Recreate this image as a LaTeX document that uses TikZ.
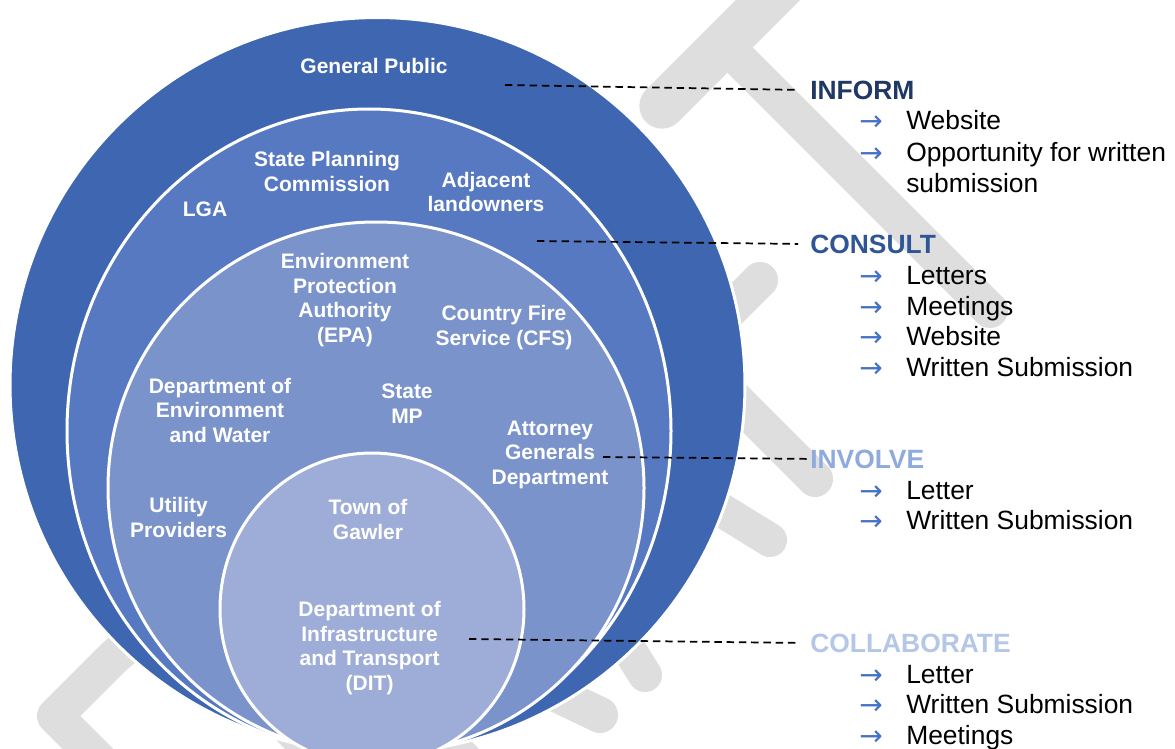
\documentclass[tikz,border=0pt]{standalone}
\usepackage{fontspec}
\setmainfont{Liberation Sans}
\newfontfamily\arrowfont{DejaVu Sans}
\newcommand{\listarrow}{\raisebox{0pt}[\height][0pt]{→}}
\definecolor{ringA}{HTML}{3F66B0}
\definecolor{ringB}{HTML}{5779C1}
\definecolor{ringC}{HTML}{7B93CB}
\definecolor{ringD}{HTML}{9EADD7}
\definecolor{wmgrey}{HTML}{DEDEDE}
\definecolor{informc}{HTML}{203864}
\definecolor{consultc}{HTML}{2F5597}
\definecolor{involvec}{HTML}{8FAADC}
\definecolor{collabc}{HTML}{B4C7E7}
\definecolor{arrowblue}{HTML}{4472C4}
\begin{document}
\begin{tikzpicture}[x=0.75pt,y=-0.75pt,
  ring/.style={draw=white, line width=2.25pt},
  wm/.style={draw=wmgrey, line cap=round, line join=round, line width=27pt},
  dashline/.style={draw=black, line width=1.3pt, dash pattern=on 5.6pt off 3.6pt},
  lab/.style={text=white, font=\bfseries\fontsize{15.75}{18.4}\selectfont, align=center, inner sep=0pt},
  head/.style={font=\bfseries\fontsize{19.8}{23.25}\selectfont, anchor=base west, inner sep=0pt},
  item/.style={font=\fontsize{19.8}{23.25}\selectfont, anchor=base west, inner sep=0pt, align=left},
  arr/.style={font=\arrowfont\fontsize{21}{24}\selectfont, text=arrowblue, anchor=base west, inner sep=0pt}]
\useasboundingbox (0,0) rectangle (1175,749);
\clip (0,0) rectangle (1175,749);
\fill[white] (0,0) rectangle (1175,749);
% watermark strokes
\draw[wm, line width=34pt] (662,106) -- (880,-112);
\draw[wm] (724,44) -- (990,310);
\draw[wm] (550,214) -- (815,479);
\draw[wm] (688,352) -- (760,280);
\draw[wm, line width=25.5pt] (432,332) -- (770,540);
\draw[wm, line width=25.5pt] (432,332) -- (645,675);
\draw[wm] (414,626) -- (600,715);
\draw[wm, line width=22.5pt] (237,528) -- (536,827);
\draw[wm] (55,716) -- (111.6,659.4) .. controls (164.6,606.4) and (215,648.8) .. (306,745)
  .. controls (390.8,832.7) and (433.2,875) .. (380,928.7) -- (323.7,984.7) -- cycle;
% nested circles
\draw[ring, fill=ringA] (377.5,385) ellipse [x radius=275.6pt, y radius=275.6pt];
\draw[ring, fill=ringB] (369,431) ellipse [x radius=226.5pt, y radius=241.5pt];
\draw[ring, fill=ringC] (376,488) ellipse [x radius=201pt, y radius=199.5pt];
\draw[ring, fill=ringD] (372,609) ellipse [x radius=114pt, y radius=117pt];
% labels in circles
\node[lab] (gp) at (374,65.5) {General Public};
\node[lab] (spc) at (327,171.5) {State Planning\\Commission};
\node[lab] (lga) at (205,209) {LGA};
\node[lab] (adj) at (486,192) {Adjacent\\landowners};
\node[lab] (epa) at (345,300) {Environment\\Protection\\Authority\\(EPA)};
\node[lab] (cfs) at (504,327.5) {Country Fire\\Service (CFS)};
\node[lab] (dew) at (220,410.3) {Department of\\Environment\\and Water};
\node[lab] (mp) at (407,403.8) {State\\MP};
\node[lab] (agd) at (550,454.5) {Attorney\\Generals\\Department};
\node[lab] (util) at (178.6,517.5) {Utility\\Providers};
\node[lab] (town) at (368,519.5) {Town of\\Gawler};
\node[lab] (dit) at (369.6,648) {Department of\\Infrastructure\\and Transport\\(DIT)};
% headings
\node[head, text=informc] (inform) at (810,99) {INFORM};
\node[head, text=consultc] (consult) at (810,253) {CONSULT};
\node[head, text=involvec] (involve) at (810,468) {INVOLVE};
\node[head, text=collabc] (collab) at (810,652) {COLLABORATE};
% items
\node[arr] (ar1) at (859,131) {\listarrow}; \node[item] (it1) at (906,130) {Website};
\node[arr] (ar2) at (859,162) {\listarrow}; \node[item] (it2) at (906,192) {Opportunity for written\\submission};
\node[arr] (ar3) at (859,285) {\listarrow}; \node[item] (it3) at (906,284) {Letters};
\node[arr] (ar4) at (859,316) {\listarrow}; \node[item] (it4) at (906,315) {Meetings};
\node[arr] (ar5) at (859,346) {\listarrow}; \node[item] (it5) at (906,345) {Website};
\node[arr] (ar6) at (859,377) {\listarrow}; \node[item] (it6) at (906,376) {Written Submission};
\node[arr] (ar7) at (859,500) {\listarrow}; \node[item] (it7) at (906,499) {Letter};
\node[arr] (ar8) at (859,530) {\listarrow}; \node[item] (it8) at (906,529) {Written Submission};
\node[arr] (ar9) at (859,684) {\listarrow}; \node[item] (it9) at (906,683) {Letter};
\node[arr] (ar10) at (859,714) {\listarrow}; \node[item] (it10) at (906,713) {Written Submission};
\node[arr] (ar11) at (859,745) {\listarrow}; \node[item] (it11) at (906,744) {Meetings};
% dashed leaders
\coordinate (p1) at (505,85);
\coordinate (p2) at (537,241);
\coordinate (p3) at (603,457);
\coordinate (p4) at (469,639);
\draw[dashline] (p1) -- ([xshift=-9pt]inform.west);
\draw[dashline] (p2) -- ([xshift=-9pt]consult.west);
\draw[dashline] (p3) -- ([xshift=-1pt]involve.west);
\draw[dashline] (p4) -- ([xshift=-9pt]collab.west);
\end{tikzpicture}
\end{document}
